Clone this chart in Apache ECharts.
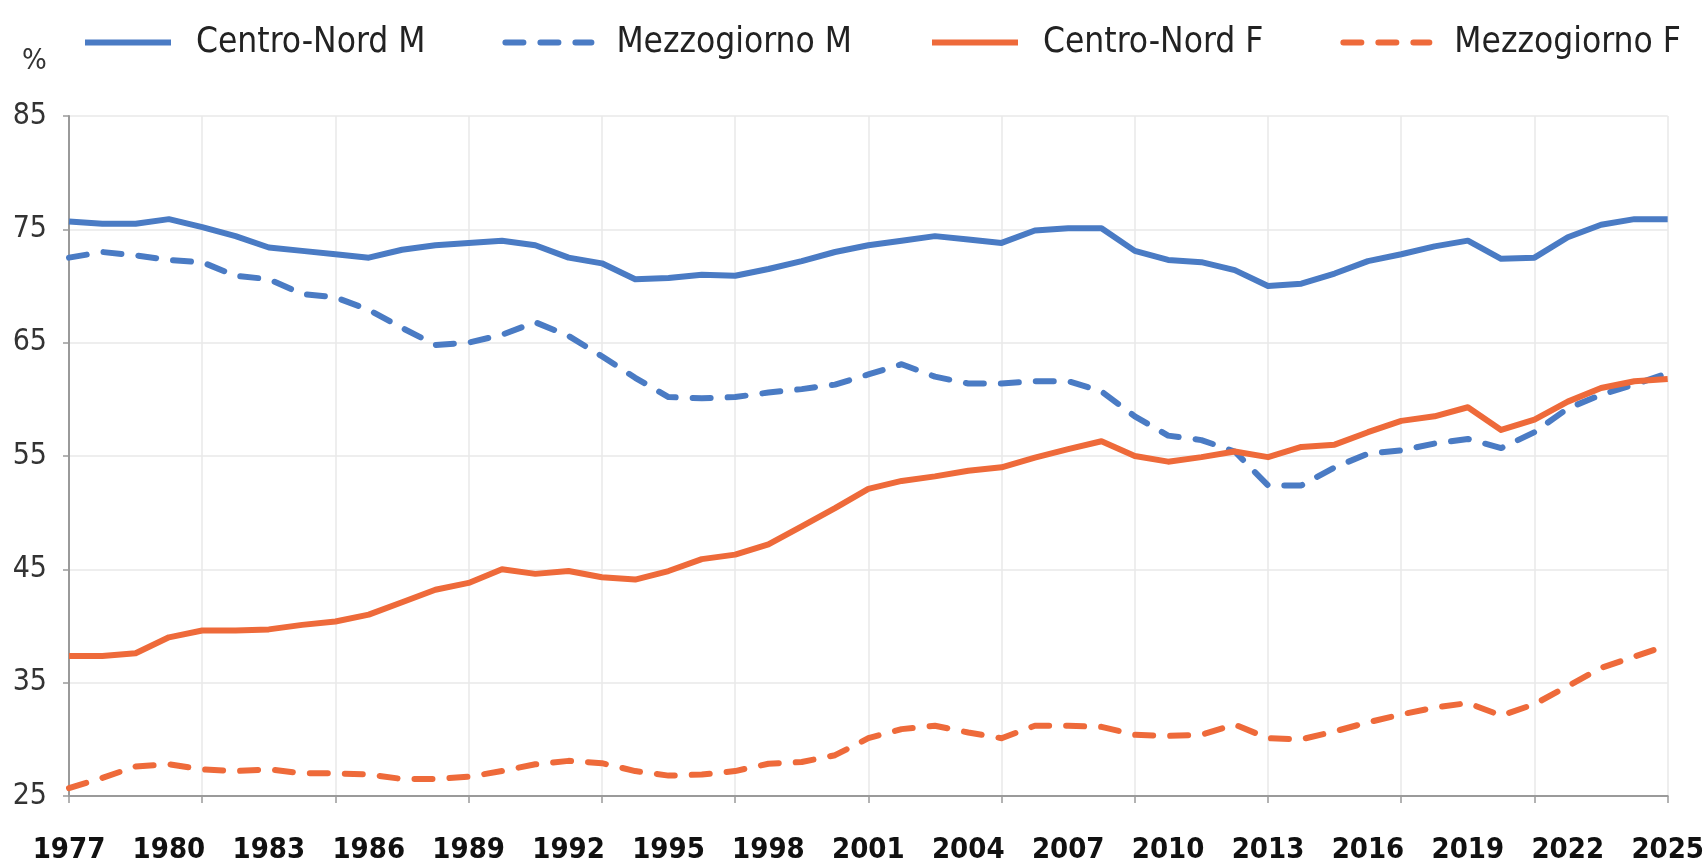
<!DOCTYPE html>
<html>
<head>
<meta charset="utf-8">
<title>Tasso di occupazione</title>
<script src="https://cdn.jsdelivr.net/npm/echarts@6/dist/echarts.min.js"></script>
<style>
	html,body{margin:0;padding:0;background:#fff;}
	#main{width:1707px;height:866px;}
</style>
</head>
<body>
<div id="main"></div>
<script>
	var years = ['1977','1978','1979','1980','1981','1982','1983','1984','1985','1986','1987','1988','1989','1990','1991','1992',
		'1993','1994','1995','1996','1997','1998','1999','2000','2001','2002','2003','2004','2005','2006','2007','2008',
		'2009','2010','2011','2012','2013','2014','2015','2016','2017','2018','2019','2020','2021','2022','2023','2024','2025'];
	var yTicks = [25,35,45,55,65,75,85];
	var seriesNames = ['Centro-Nord M','Mezzogiorno M','Centro-Nord F','Mezzogiorno F'];

	var centroNordM = [75.7,75.5,75.5,75.9,75.2,74.4,73.4,73.1,72.8,72.5,73.2,73.6,73.8,74.0,73.6,72.5,
		72.0,70.6,70.7,71.0,70.9,71.5,72.2,73.0,73.6,74.0,74.4,74.1,73.8,74.9,75.1,75.1,
		73.1,72.3,72.1,71.4,70.0,70.2,71.1,72.2,72.8,73.5,74.0,72.4,72.5,74.3,75.4,75.9,75.9];
	var mezzogiornoM = [72.5,73.0,72.7,72.3,72.1,70.9,70.6,69.3,69.0,67.9,66.3,64.8,65.0,65.7,66.8,65.6,
		63.8,61.9,60.2,60.1,60.2,60.6,60.9,61.3,62.2,63.1,62.0,61.4,61.4,61.6,61.6,60.7,
		58.5,56.8,56.4,55.4,52.4,52.4,54.0,55.2,55.5,56.1,56.5,55.7,57.1,59.2,60.4,61.3,62.3];
	var centroNordF = [37.35,37.35,37.6,39.0,39.6,39.6,39.7,40.1,40.4,41.0,42.1,43.2,43.8,45.0,44.6,44.85,
		44.3,44.1,44.85,45.9,46.3,47.2,48.8,50.4,52.1,52.8,53.2,53.7,54.0,54.85,55.6,56.3,
		55.0,54.5,54.9,55.4,54.9,55.8,56.0,57.1,58.1,58.5,59.3,57.3,58.2,59.8,61.0,61.6,61.8];
	var mezzogiornoF = [25.7,26.6,27.6,27.8,27.35,27.2,27.35,27.0,27.0,26.9,26.5,26.5,26.7,27.2,27.8,28.1,
		27.9,27.2,26.8,26.9,27.2,27.85,28.0,28.6,30.1,30.9,31.2,30.6,30.1,31.2,31.2,31.1,
		30.4,30.3,30.4,31.3,30.1,30.0,30.7,31.5,32.2,32.8,33.2,32.1,33.1,34.7,36.3,37.3,38.3];

	var blue = '#4a7bc4', orange = '#ee6a3a';
	var narrow = '"Liberation Sans Narrow","DejaVu Sans Condensed","Liberation Sans",sans-serif';

	function lineSeries(name,data,color,dashed){
		return {
			name:name,
			type:'line',
			data:data,
			symbol:'none',
			showSymbol:false,
			lineStyle:{
				color:color,
				width:6,
				type:dashed ? [18,17] : 'solid',
				cap:dashed ? 'round' : 'butt',
				join:'round'
			},
			itemStyle:{color:color}
		};
	}

	var option = {
		animation:false,
		backgroundColor:'#fff',
		legend:{
			left:77,
			top:20,
			itemWidth:86,
			itemHeight:14,
			itemGap:77,
			itemStyle:{opacity:0,borderWidth:0},
			lineStyle:{width:6},
			textStyle:{fontFamily:narrow,fontSize:35,color:'#222',padding:[0,0,0,20]},
			data:seriesNames
		},
		graphic:[{
			type:'text',
			left:22,
			top:47,
			style:{text:'%',font:'29px ' + narrow,fill:'#333'}
		}],
		grid:{left:69,right:32,top:116,bottom:70,containLabel:false},
		xAxis:{
			type:'category',
			data:years,
			boundaryGap:false,
			axisLine:{lineStyle:{color:'#9a9a9a',width:2}},
			axisTick:{show:true,interval:3,length:7,lineStyle:{color:'#9a9a9a',width:1.5}},
			axisLabel:{interval:2,margin:40,fontFamily:narrow,fontSize:29,fontWeight:'bold',color:'#111'},
			splitLine:{show:true,interval:3,lineStyle:{color:'#e8e8e8',width:1.5}}
		},
		yAxis:{
			type:'value',
			min:yTicks[0],
			max:yTicks[yTicks.length-1],
			interval:10,
			axisLine:{show:true,lineStyle:{color:'#9a9a9a',width:2}},
			axisTick:{show:true,length:6,lineStyle:{color:'#9a9a9a',width:1.5}},
			axisLabel:{margin:22,fontFamily:narrow,fontSize:30,color:'#333'},
			splitLine:{show:true,lineStyle:{color:'#e8e8e8',width:1.5}}
		},
		series:[
			lineSeries(seriesNames[0],centroNordM,blue,false),
			lineSeries(seriesNames[1],mezzogiornoM,blue,true),
			lineSeries(seriesNames[2],centroNordF,orange,false),
			lineSeries(seriesNames[3],mezzogiornoF,orange,true)
		]
	};

	var myChart = echarts.init(document.getElementById('main'));
	myChart.setOption(option);
</script>
</body>
</html>
